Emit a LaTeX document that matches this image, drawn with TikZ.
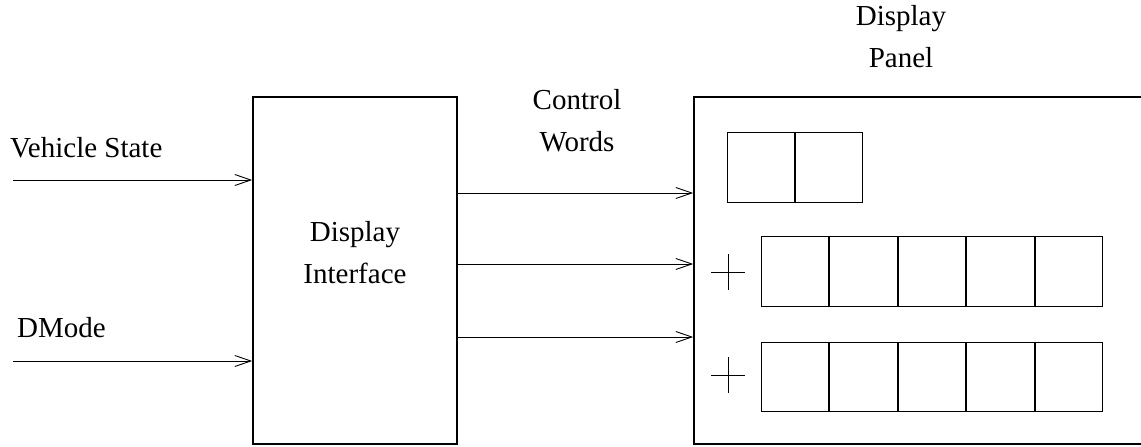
\documentclass[tikz,border=0pt]{standalone}
\usepackage{fontspec}
\setmainfont{Liberation Serif}
\usetikzlibrary{arrows.meta}
\begin{document}
\begin{tikzpicture}[x=1pt,y=-1pt,
  txt/.style={font=\fontsize{29}{41.5}\selectfont, inner sep=0pt, align=center},
  bigbox/.style={draw, line width=1.6pt, inner sep=0pt},
  cell/.style={draw, line width=1pt, inner sep=0pt, minimum width=67.4pt, minimum height=70pt, anchor=north west},
  sig/.style={line width=0.9pt, -{Straight Barb[length=16pt,width=11pt,line width=0.9pt]}},
  plusmark/.style={line width=0.9pt}]
\useasboundingbox (0,0) rectangle (1141,447);
\clip (0,0) rectangle (1141,447);
% Display Interface
\node[bigbox, minimum width=204pt, minimum height=347pt] (di) at (355,270.5) {};
\node[txt, anchor=base] (ditxt) at (355,283) {Display\\Interface};
% Panel
\node[bigbox, minimum width=452pt, minimum height=347pt] (panel) at (920,270.5) {};
\node[txt, anchor=base] (ptxt) at (901,67) {Display\\Panel};
% inputs
\coordinate (vs) at (13,180);
\coordinate (dm) at (13,361);
\node[txt, anchor=base west] (vslab) at (10,157) {Vehicle State};
\node[txt, anchor=base west] (dmlab) at (17,337) {DMode};
\draw[sig] (vs) -- (vs -| di.west);
\draw[sig] (dm) -- (dm -| di.west);
% outputs
\node[txt, anchor=base] (cw) at (577,151) {Control\\Words};
\foreach \y/\n in {193/a,264/b,337/c}{
  \coordinate (o\n) at (457,\y);
  \draw[sig] (o\n -| di.east) -- (o\n -| panel.west);
}
% cells
\node[cell, minimum width=67pt] (s1) at (727,132) {};
\node[cell, minimum width=67pt, anchor=north west] (s2) at (s1.north east) {};
\node[cell] (r1) at (761,236) {};
\node[cell] (r2) at (r1.north east) {};
\node[cell] (r3) at (r2.north east) {};
\node[cell] (r4) at (r3.north east) {};
\node[cell] (r5) at (r4.north east) {};
\node[cell, minimum height=69pt] (t1) at (761,342) {};
\node[cell, minimum height=69pt] (t2) at (t1.north east) {};
\node[cell, minimum height=69pt] (t3) at (t2.north east) {};
\node[cell, minimum height=69pt] (t4) at (t3.north east) {};
\node[cell, minimum height=69pt] (t5) at (t4.north east) {};
% plus marks
\coordinate (p1) at (728,272);
\coordinate (p2) at (728,375);
\foreach \p in {p1,p2}{
  \draw[plusmark] ([xshift=-17pt]\p) -- ([xshift=17pt]\p);
  \draw[plusmark] ([yshift=-18pt]\p) -- ([yshift=18pt]\p);
}
\end{tikzpicture}
\end{document}
